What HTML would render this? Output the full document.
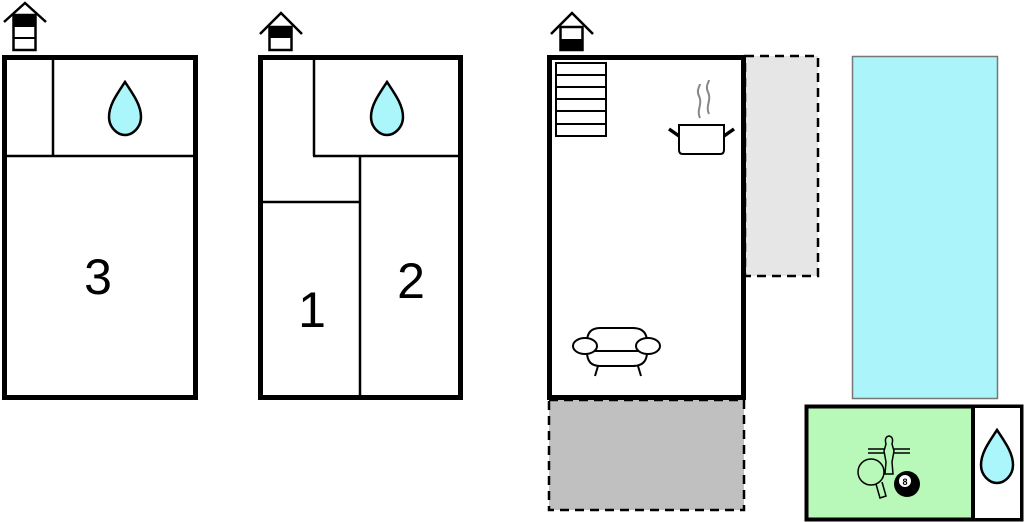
<!DOCTYPE html>
<html><head><style>html,body{margin:0;padding:0;background:#fff}svg{display:block}</style></head>
<body>
<svg width="1024" height="522" viewBox="0 0 1024 522" xmlns="http://www.w3.org/2000/svg">
<defs>
<path id="drop" d="M0,-27 C8,-15 16,-4 16,8 C16,18 8,26 0,26 C-8,26 -16,18 -16,8 C-16,-4 -8,-15 0,-27 Z" fill="#aaf6fa" stroke="#000" stroke-width="2.5"/>
</defs>
<!-- house icons -->
<g fill="none" stroke="#000" stroke-width="2.5">
<polyline points="4,22 25,3 46,22"/>
<rect x="13.5" y="15" width="22" height="35" fill="#fff"/>
<polyline points="260,34 281,13 302,34"/>
<rect x="269.5" y="27" width="22" height="23" fill="#fff"/>
<polyline points="551,34 572,13 593,34"/>
<rect x="560.5" y="27" width="22" height="23" fill="#fff"/>
</g>
<rect x="13" y="15" width="23" height="12" fill="#000"/>
<line x1="13" y1="38" x2="36" y2="38" stroke="#000" stroke-width="2"/>
<rect x="269" y="27" width="23" height="11" fill="#000"/>
<rect x="560" y="39" width="23" height="11" fill="#000"/>

<!-- building 1 -->
<rect x="4.5" y="57.5" width="191" height="340" fill="#fff" stroke="#000" stroke-width="5"/>
<g stroke="#000" stroke-width="2.5">
<line x1="53" y1="57" x2="53" y2="156"/>
<line x1="6" y1="156" x2="194" y2="156"/>
</g>
<use href="#drop" x="125" y="109"/>
<text x="98" y="294" font-family="Liberation Sans, sans-serif" font-size="50" text-anchor="middle">3</text>

<!-- building 2 -->
<rect x="260.5" y="57.5" width="200" height="340" fill="#fff" stroke="#000" stroke-width="5"/>
<g stroke="#000" stroke-width="2.5">
<line x1="314" y1="57" x2="314" y2="156"/>
<line x1="313" y1="156" x2="460" y2="156"/>
<line x1="360" y1="156" x2="360" y2="398"/>
<line x1="260" y1="202" x2="361" y2="202"/>
</g>
<use href="#drop" x="387" y="109"/>
<text x="312" y="327" font-family="Liberation Sans, sans-serif" font-size="50" text-anchor="middle">1</text>
<text x="411" y="298" font-family="Liberation Sans, sans-serif" font-size="50" text-anchor="middle">2</text>

<!-- dashed areas -->
<rect x="745" y="56" width="73" height="220" fill="#e6e6e6" stroke="#000" stroke-width="2.5" stroke-dasharray="9,6"/>
<rect x="549" y="400" width="195" height="110" fill="#c0c0c0" stroke="#000" stroke-width="2.5" stroke-dasharray="9,6"/>

<!-- building 3 -->
<rect x="549.5" y="57.5" width="194" height="340" fill="#fff" stroke="#000" stroke-width="5"/>
<g fill="none" stroke="#000" stroke-width="2">
<rect x="556" y="63" width="50" height="73" fill="#fff"/>
<line x1="556" y1="75" x2="606" y2="75"/><line x1="556" y1="87" x2="606" y2="87"/>
<line x1="556" y1="99" x2="606" y2="99"/><line x1="556" y1="111" x2="606" y2="111"/>
<line x1="556" y1="124" x2="606" y2="124"/>
<!-- pot -->
<path d="M679,125 H724 V150 Q724,154 720,154 H683 Q679,154 679,150 Z"/>
<line x1="679" y1="136" x2="669" y2="129" stroke-width="3.5"/>
<line x1="724" y1="136" x2="734" y2="129" stroke-width="3.5"/>
<path d="M700,118 C696,110 703,104 699,96 C696,90 700,86 700,84" stroke="#888"/>
<path d="M709,114 C705,106 712,100 708,92 C705,86 709,82 709,80" stroke="#888"/>
<!-- sofa -->
<path d="M587,342 Q587,328 600,328 H633 Q647,328 647,342"/>
<path d="M587,352 Q587,366 600,366 H633 Q647,366 647,352"/>
<line x1="594" y1="351" x2="640" y2="351"/>
<ellipse cx="585" cy="346" rx="12" ry="8" fill="#fff"/>
<ellipse cx="648" cy="346" rx="12" ry="8" fill="#fff"/>
<line x1="598" y1="366" x2="595" y2="376"/>
<line x1="638" y1="366" x2="641" y2="376"/>
</g>

<!-- pool -->
<rect x="852.5" y="56.5" width="145" height="342" fill="#aaf4fa" stroke="#777" stroke-width="1.5"/>

<!-- game room -->
<rect x="806.5" y="406.5" width="215" height="113" fill="#b8f8b8" stroke="#000" stroke-width="4"/>
<rect x="973" y="408" width="47" height="110" fill="#fff"/>
<line x1="973" y1="406" x2="973" y2="520" stroke="#000" stroke-width="4"/>
<use href="#drop" x="997" y="457"/>
<g fill="none" stroke="#000" stroke-width="1.5">
<line x1="868" y1="449" x2="910" y2="449"/><line x1="868" y1="453" x2="910" y2="453"/>
<path d="M886,444 Q884,437 889,436 Q894,437 892,444 L894,451 L892,462 L893,474 H885 L886,462 L884,451 Z" fill="#b8f8b8"/>
<ellipse cx="871" cy="472" rx="13" ry="13" fill="#b8f8b8"/>
<path d="M876,484 L880,498 L886,496 L882,482"/>
</g>
<circle cx="907" cy="484" r="13" fill="#000"/>
<circle cx="905" cy="481" r="6" fill="#fff"/>
<text x="905" y="485" font-family="Liberation Sans, sans-serif" font-size="9" font-weight="bold" text-anchor="middle">8</text>
</svg>
</body></html>
